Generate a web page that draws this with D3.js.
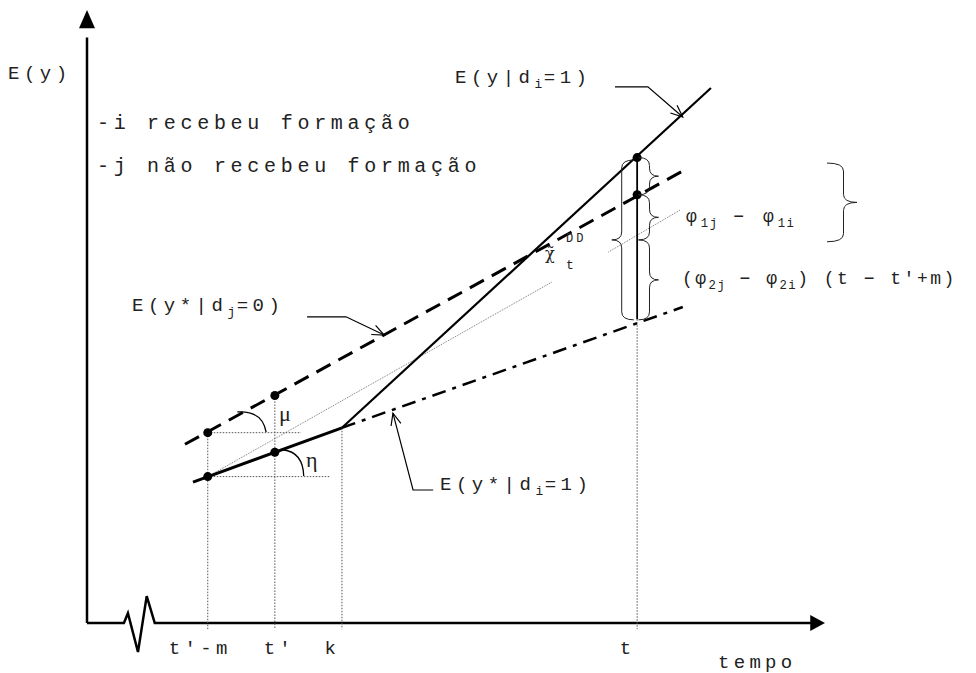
<!DOCTYPE html>
<html>
<head>
<meta charset="utf-8">
<script src="https://cdn.jsdelivr.net/npm/d3@7"></script>
<style>
  body { margin: 0; background: #fff; }
  text { font-family: "Liberation Mono", "DejaVu Sans Mono", monospace; fill: #222; }
</style>
</head>
<body>
<svg class="diagram"></svg>
<script>
const width = 976;
const height = 673;

// time axis (abstract units) and tick labels
const tickValues = [18, 28, 38, 82];
const tickLabels = ["t'-m", "t'", "k", "t"];
const tickShift = [-8, 4, -10, -10];

// expected outcome paths
const treatedPath = [[15.8, 23.1], [38, 32.0], [93.0, 87.7]];   // E(y|d_i=1)
const controlPath = [[14.6, 29.3], [89.3, 74.4]];               // E(y*|d_j=0)
const counterPath = [[38, 32.0], [88.8, 51.8]];                 // E(y*|d_i=1)
const parallelSegs = [
  [[18, 24.0], [69.3, 55.9]],
  [[77.7, 60.8], [88.4, 67.7]],
];
const dots = [[18, 24.0], [28, 28.0], [18, 31.2], [28, 37.3], [82, 76.3], [82, 70.2]];

// guide lines
const hGuides = [[18, 31.9, 31.2], [18, 36.2, 24.0]];          // x0, x1, y
const vGuides = [[18, 31.2], [28, 37.3], [38, 32.0], [82, 49.8]]; // x, top
const tSegment = [[82, 49.8], [82, 76.3]];

// axis break
const breakPts = [[0, 0], [5.5, 0], [6.1, 1.6], [7.6, -4.75], [8.9, 4.4], [10.1, 0], [108, 0]];

// braces: x, y1, y2, width(px)
const braces = [
  [82.2, 76.3, 70.2, 20],
  [82.2, 70.2, 62.8, 20],
  [82.2, 62.8, 49.7, 20],
  [81.5, 75.9, 49.7, -22],
  [110.3, 75.4, 62.5, 30],
];

// leader arrows (last point is the tip)
const leaders = [
  [[78.7, 87.9], [83.6, 87.9], [88.8, 82.95]],
  [[32.8, 50.2], [38.6, 50.2], [44.3, 47.2]],
  [[51.6, 21.8], [48.6, 21.8], [45.6, 34.4]],
];

// angle arcs: start, control, end
const arcs = [
  [[22.4, 34.6], [26.1, 34.9], [26.7, 31.3]],
  [[29.2, 28.4], [32.2, 28.0], [32.3, 24.1]],
];

const svg = d3.select(".diagram").attr("width", width).attr("height", height);

const x = d3.scaleLinear().domain([0, 110]).range([87, 825]);
const y = d3.scaleLinear().domain([0, 100]).range([623, 13]);
const line = d3.line().x((d) => x(d[0])).y((d) => y(d[1]));

// axes
svg.append("path")
  .attr("d", line(breakPts))
  .attr("fill", "none").attr("stroke", "#000").attr("stroke-width", 2.5);
svg.append("line")
  .attr("x1", x(0)).attr("x2", x(0)).attr("y1", y(0)).attr("y2", y(96))
  .attr("stroke", "#000").attr("stroke-width", 2.5);
svg.append("path")
  .attr("d", `M${x(0)},${y(100.5)} L${x(0) - 8},${y(97.5)} L${x(0) + 8},${y(97.5)} Z`)
  .attr("fill", "#000");
svg.append("path")
  .attr("d", `M${x(110)},${y(0)} L${x(107.8)},${y(0) - 8} L${x(107.8)},${y(0) + 8} Z`)
  .attr("fill", "#000");

const xAxis = svg.append("g")
  .attr("transform", `translate(0,${y(0)})`)
  .call(d3.axisBottom(x).tickValues(tickValues).tickSize(0)
    .tickFormat((d, i) => tickLabels[i]));
xAxis.select(".domain").remove();
xAxis.selectAll("text")
  .attr("y", 31).attr("dy", 0)
  .attr("dx", (d, i) => tickShift[i])
  .style("font-family", "Liberation Mono, monospace")
  .style("font-size", "19px")
  .style("letter-spacing", "4.3px")
  .style("fill", "#222");

// dotted guides
const guide = svg.append("g")
  .attr("stroke", "#555").attr("stroke-width", 1).attr("stroke-dasharray", "1.5,1.5");
vGuides.forEach(([gx, top]) => {
  guide.append("line").attr("x1", x(gx)).attr("x2", x(gx)).attr("y1", y(top)).attr("y2", y(-1));
});
hGuides.forEach(([x0, x1, gy]) => {
  guide.append("line").attr("x1", x(x0)).attr("x2", x(x1)).attr("y1", y(gy)).attr("y2", y(gy));
});

// thin parallel-trend line
parallelSegs.forEach((s) => {
  svg.append("path").attr("d", line(s))
    .attr("fill", "none").attr("stroke", "#555").attr("stroke-width", 0.8)
    .attr("stroke-dasharray", "1,1");
});

// main lines
svg.append("path").attr("d", line(controlPath))
  .attr("fill", "none").attr("stroke", "#000").attr("stroke-width", 3)
  .attr("stroke-dasharray", "16,9");
svg.append("path").attr("d", line(counterPath))
  .attr("fill", "none").attr("stroke", "#000").attr("stroke-width", 2.5)
  .attr("stroke-dasharray", "14,7,4,7");
svg.append("path").attr("d", line(treatedPath.slice(0, 2)))
  .attr("fill", "none").attr("stroke", "#000").attr("stroke-width", 3);
svg.append("path").attr("d", line(treatedPath.slice(1)))
  .attr("fill", "none").attr("stroke", "#000").attr("stroke-width", 2.2);
svg.append("path").attr("d", line(tSegment))
  .attr("fill", "none").attr("stroke", "#000").attr("stroke-width", 1.8);

svg.selectAll("circle.pt")
  .data(dots)
  .enter()
  .append("circle")
  .attr("class", "pt")
  .attr("cx", (d) => x(d[0]))
  .attr("cy", (d) => y(d[1]))
  .attr("r", 4.5)
  .attr("fill", "#000");

// braces
function bracePath(bx, y1, y2, w) {
  const px = x(bx), a = y(y1), b = y(y2);
  const ym = (a + b) / 2, sx = px + w * 0.55, tx = px + w;
  const r = Math.min(8, Math.abs(b - a) / 4);
  return `M${px},${a} Q${sx},${a} ${sx},${a + r} L${sx},${ym - r} Q${sx},${ym} ${tx},${ym}` +
    ` Q${sx},${ym} ${sx},${ym + r} L${sx},${b - r} Q${sx},${b} ${px},${b}`;
}
braces.forEach((d) => {
  svg.append("path").attr("d", bracePath(...d))
    .attr("fill", "none").attr("stroke", "#222").attr("stroke-width", 1);
});

// leader arrows
leaders.forEach((pts) => {
  svg.append("path").attr("d", line(pts))
    .attr("fill", "none").attr("stroke", "#000").attr("stroke-width", 1.2);
  const tip = pts[pts.length - 1], prev = pts[pts.length - 2];
  const ang = Math.atan2(y(tip[1]) - y(prev[1]), x(tip[0]) - x(prev[0]));
  const tx = x(tip[0]), ty = y(tip[1]);
  const a1 = ang + Math.PI - 0.4, a2 = ang + Math.PI + 0.4;
  svg.append("path")
    .attr("d", `M${tx + 13 * Math.cos(a1)},${ty + 13 * Math.sin(a1)} L${tx},${ty} L${tx + 13 * Math.cos(a2)},${ty + 13 * Math.sin(a2)}`)
    .attr("fill", "none").attr("stroke", "#000").attr("stroke-width", 1.2);
});

// angle arcs
arcs.forEach(([s, c, e]) => {
  svg.append("path")
    .attr("d", `M${x(s[0])},${y(s[1])} Q${x(c[0])},${y(c[1])} ${x(e[0])},${y(e[1])}`)
    .attr("fill", "none").attr("stroke", "#000").attr("stroke-width", 1.3);
});

// text helper with subscripts
function label(tx, ty, parts, size, ls) {
  const t = svg.append("text").attr("x", tx).attr("y", ty)
    .style("font-size", size + "px").style("letter-spacing", ls + "px");
  let shift = 0;
  parts.forEach((p) => {
    const sub = Array.isArray(p);
    const want = sub ? 5 : 0;
    t.append("tspan")
      .attr("dy", want - shift)
      .style("font-size", sub ? (size * 0.68) + "px" : null)
      .style("letter-spacing", sub ? "1.5px" : null)
      .text(sub ? p[0] : p);
    shift = want;
  });
  return t;
}

label(8, 79, ["E(y)"], 19, 4.5);
label(97, 129, ["-i recebeu formação"], 20, 4.7);
label(97, 172, ["-j não recebeu formação"], 20, 4.7);
label(455, 83, ["E(y|d", ["i"], "=1)"], 19, 4.5);
label(132, 311, ["E(y*|d", ["j"], "=0)"], 19, 4.5);
label(440, 490, ["E(y*|d", ["i"], "=1)"], 19, 4.5);
label(686, 222, ["φ", ["1j"], " − φ", ["1i"]], 18, 4);
label(682, 284, ["(φ", ["2j"], " − φ", ["2i"], ") (t − t'+m)"], 18, 2.5);
label(718, 668, ["tempo"], 19, 4.3);

svg.append("text").attr("x", 279).attr("y", 421).text("μ")
  .style("font-family", "Liberation Serif, serif").style("font-size", "22px");
svg.append("text").attr("x", 306).attr("y", 467).text("η")
  .style("font-family", "Liberation Serif, serif").style("font-size", "22px");
svg.append("text").attr("x", 545).attr("y", 259).text("χ\u0303")
  .style("font-family", "DejaVu Serif, Liberation Serif, serif").style("font-size", "16px");
label(566, 242, ["DD"], 12, 3);
label(566, 269, ["t"], 13, 3);
</script>
</body>
</html>
